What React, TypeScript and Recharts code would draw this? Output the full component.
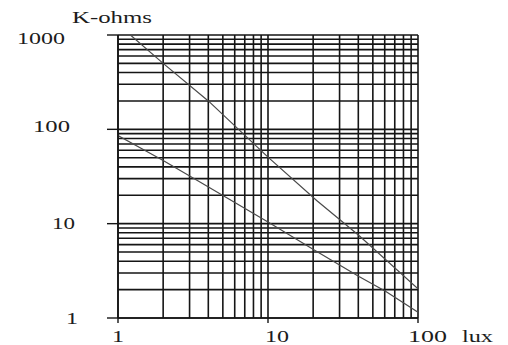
import React from 'react';
import { LineChart, Line, XAxis, YAxis, ReferenceLine } from 'recharts';

// Data (log-log): resistance (K-ohms) vs illuminance (lux)
const xTicks = [1, 10, 100];
const yTicks = [1, 10, 100, 1000];
const xGridValues = [1, 2, 3, 4, 5, 6, 7, 8, 9, 10, 20, 30, 40, 50, 60, 70, 80, 90, 100];
const yGridValues = [1, 2, 3, 4, 5, 6, 7, 8, 9, 10, 20, 30, 40, 50, 60, 70, 80, 90, 100, 200, 300, 400, 500, 600, 700, 800, 900, 1000];

const upperLux = [1.21, 2, 4, 10, 21.1, 40.4, 100];
const upperKohm = [1000, 500, 200, 50.7, 17.6, 7.5, 2.04];
const lowerLux = [1, 2, 3.54, 10, 20.6, 40.4, 60.7, 100];
const lowerKohm = [86, 46.8, 27.5, 10.4, 5.2, 2.75, 1.92, 1.15];

const upperData = upperLux.map((x, i) => ({ x, y: upperKohm[i] }));
const lowerData = lowerLux.map((x, i) => ({ x, y: lowerKohm[i] }));

const FONT = '"Liberation Serif", "Times New Roman", serif';
const TEXT = '#1c1c1c';
const GRID = '#151515';

const yLabelStyle: Record<number, { dx: number; dy: number; len: number }> = {
  1000: { dx: -42, dy: 8.5, len: 48 },
  100: { dx: -37, dy: 3, len: 37 },
  10: { dx: -32, dy: 5.5, len: 23 },
  1: { dx: -29, dy: 5.5, len: 12 },
};
const xLabelStyle: Record<number, { dx: number; anchor: string; len: number }> = {
  1: { dx: 0, anchor: 'middle', len: 12 },
  10: { dx: -3, anchor: 'start', len: 24 },
  100: { dx: -10, anchor: 'start', len: 39 },
};

const YTick = (props: any) => {
  const { x, y, payload } = props;
  const s = yLabelStyle[payload.value] || { dx: -5, dy: 5, len: 20 };
  return (
    <text x={x + s.dx} y={y + s.dy} textAnchor="end" fontFamily={FONT} fontSize={16} fill={TEXT}
      textLength={s.len} lengthAdjust="spacingAndGlyphs">
      {String(payload.value)}
    </text>
  );
};

const XTick = (props: any) => {
  const { x, y, payload } = props;
  const s = xLabelStyle[payload.value] || { dx: 0, anchor: 'middle', len: 20 };
  return (
    <text x={x + s.dx} y={y + 18.5} textAnchor={s.anchor as any} fontFamily={FONT} fontSize={16} fill={TEXT}
      textLength={s.len} lengthAdjust="spacingAndGlyphs">
      {String(payload.value)}
    </text>
  );
};

const LuxLabel = (props: any) => {
  const vb = props.viewBox || {};
  return (
    <text x={vb.x + vb.width + 44} y={vb.y + 23.5} fontFamily={FONT} fontSize={16} fill={TEXT}
      textLength={31} lengthAdjust="spacingAndGlyphs">
      lux
    </text>
  );
};

const OhmLabel = (props: any) => {
  const vb = props.viewBox || {};
  return (
    <text x={vb.x + 72} y={vb.y - 12} fontFamily={FONT} fontSize={16} fill={TEXT}
      textLength={80} lengthAdjust="spacingAndGlyphs">
      K-ohms
    </text>
  );
};

export default function App() {
  return (
    <div style={{ position: 'absolute', left: 0, top: 0, background: '#fff' }}>
      <LineChart width={508} height={345} margin={{ top: 35, right: 90, bottom: 0, left: 0 }}>
        <XAxis
          dataKey="x"
          type="number"
          scale="log"
          domain={[1, 100]}
          allowDataOverflow
          ticks={xTicks}
          interval={0}
          tickSize={5}
          tickMargin={0}
          height={27}
          axisLine={{ stroke: GRID, strokeWidth: 1.6 }}
          tickLine={{ stroke: GRID, strokeWidth: 1.4 }}
          tick={<XTick />}
          label={<LuxLabel />}
        />
        <YAxis
          dataKey="y"
          type="number"
          scale="log"
          domain={[1, 1000]}
          allowDataOverflow
          ticks={yTicks}
          interval={0}
          tickSize={11}
          tickMargin={0}
          width={118}
          axisLine={{ stroke: GRID, strokeWidth: 1.6 }}
          tickLine={{ stroke: GRID, strokeWidth: 1.4 }}
          tick={<YTick />}
          label={<OhmLabel />}
        />
        {xGridValues.map((v) => (
          <ReferenceLine key={'gx' + v} x={v} stroke={GRID} strokeWidth={1.6} />
        ))}
        {yGridValues.map((v) => (
          <ReferenceLine key={'gy' + v} y={v} stroke={GRID} strokeWidth={1.6} />
        ))}
        <Line data={upperData} dataKey="y" type="linear" stroke="#4a4a4a" strokeWidth={1.2}
          dot={false} isAnimationActive={false} />
        <Line data={lowerData} dataKey="y" type="linear" stroke="#4a4a4a" strokeWidth={1.2}
          dot={false} isAnimationActive={false} />
      </LineChart>
    </div>
  );
}
